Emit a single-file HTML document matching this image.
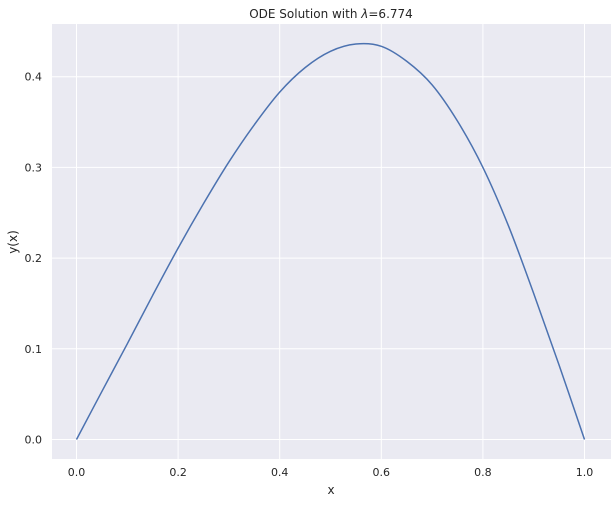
<!DOCTYPE html>
<html><head><meta charset="utf-8"><style>
body{margin:0;background:#fff;}
svg text{font-family:"DejaVu Sans","Liberation Sans",sans-serif;fill:#262626;}
</style></head><body>
<svg id="chart" width="616" height="502" xmlns="http://www.w3.org/2000/svg">
<rect x="52" y="24" width="559" height="435" fill="#eaeaf2"/>
<g id="grid"></g><g id="ticks"></g>
<path id="curve" fill="none" stroke="#4c72b0" stroke-width="1.5"/>
<text x="331" y="18" font-size="12" text-anchor="middle">ODE Solution with <tspan font-style="italic">λ</tspan>=6.774</text>
<text x="331" y="494" font-size="12" text-anchor="middle">x</text>
<text x="17" y="242" font-size="12" text-anchor="middle" transform="rotate(-90 17 242)">y(x)</text>
</svg>
<script>
const xs=[0,0.05,0.1,0.15,0.2,0.25,0.3,0.35,0.4,0.45,0.5,0.55,0.6,0.65,0.7,0.75,0.8,0.85,0.9,0.95,1.0];
const ys=[0,0.053,0.1055,0.159,0.211,0.26,0.306,0.347,0.383,0.410,0.428,0.436,0.4335,0.417,0.391,0.351,0.300,0.236,0.161,0.082,0];
const xTicks=[0,0.2,0.4,0.6,0.8,1.0];
const yTicks=[0,0.1,0.2,0.3,0.4];
const X=v=>76.5+v*508, Y=v=>439.5-v*907;
const ns="http://www.w3.org/2000/svg";
const g=document.getElementById('grid'),t=document.getElementById('ticks');
function mk(tag,a,p){const e=document.createElementNS(ns,tag);for(const k in a)e.setAttribute(k,a[k]);p.appendChild(e);return e;}
xTicks.forEach(v=>{const l=mk('line',{x1:X(v),x2:X(v),y1:24,y2:459,stroke:'#fff','stroke-width':1},g);


const e=mk('text',{x:X(v),y:476,'font-size':11,'text-anchor':'middle'},t);e.textContent=v.toFixed(1);

});
yTicks.forEach(v=>{const l=mk('line',{x1:52,x2:611,y1:Y(v),y2:Y(v),stroke:'#fff','stroke-width':1},g);


const e=mk('text',{x:42,y:Y(v)+4,'font-size':11,'text-anchor':'end'},t);e.textContent=v.toFixed(1);

});
const P=xs.map((x,i)=>[X(x),Y(ys[i])]);
let d='M'+P[0][0]+','+P[0][1];
for(let i=0;i<P.length-1;i++){const p0=P[Math.max(i-1,0)],p1=P[i],p2=P[i+1],p3=P[Math.min(i+2,P.length-1)];
d+=' C'+(p1[0]+(p2[0]-p0[0])/6)+','+(p1[1]+(p2[1]-p0[1])/6)+' '+(p2[0]-(p3[0]-p1[0])/6)+','+(p2[1]-(p3[1]-p1[1])/6)+' '+p2[0]+','+p2[1];}
document.getElementById('curve').setAttribute('d',d);
</script>
</body></html>
